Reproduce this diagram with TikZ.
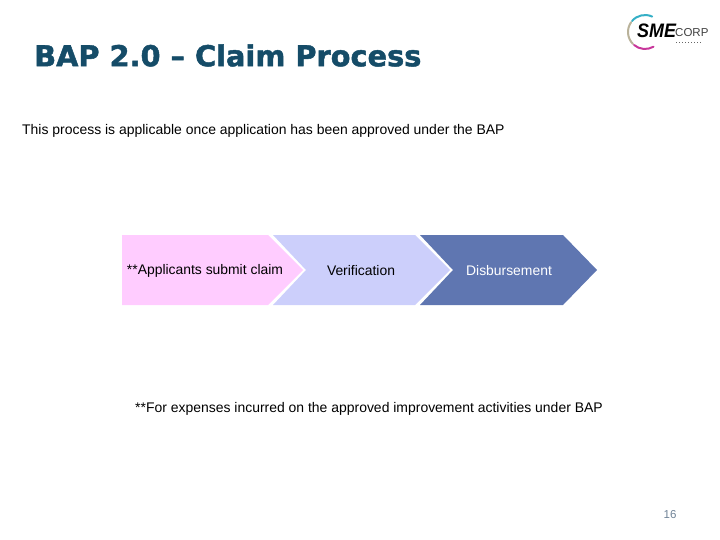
\documentclass[tikz,border=0pt]{standalone}
\usepackage{fontspec}
\setmainfont{Liberation Sans}
\newfontfamily\titlefont[BoldFeatures={FakeBold=1.6}]{DejaVu Sans}
\newfontfamily\logofont[BoldFeatures={FakeBold=0.6}]{Liberation Sans}
\definecolor{titleblue}{HTML}{154C68}
\definecolor{pinkstep}{HTML}{FFCCFF}
\definecolor{lilacstep}{HTML}{CCCFFB}
\definecolor{bluestep}{HTML}{5F76B1}
\definecolor{pagegrey}{HTML}{6F8296}
\definecolor{ringcyan}{HTML}{35AFC6}
\definecolor{ringtan}{HTML}{B9B29A}
\definecolor{ringpink}{HTML}{C8379B}
\tikzset{
  steptext/.style={font=\fontsize{13.9}{15}\selectfont, anchor=center, inner sep=0pt},
  plaintext/.style={font=\fontsize{13.95}{16}\selectfont, anchor=west, inner sep=0pt},
  ringarc/.style={line width=2pt, line cap=round}
}
\begin{document}
\begin{tikzpicture}[x=1pt,y=-1pt]
\useasboundingbox (0,0) rectangle (720,540);
\pgfmathsetmacro{\stepa}{235}
\pgfmathsetmacro{\stepb}{305}
\pgfmathsetmacro{\stepm}{270}
\coordinate (ring) at (645,32);

\node[inner sep=0pt, anchor=west, text=titleblue, font=\titlefont\fontsize{28.8}{32}\selectfont\bfseries] (title) at (34,55.5) {BAP 2.0 – Claim Process};

% logo
\draw[ringarc, ringcyan] (ring) ++(-65:17) arc (-65:-140:17);
\draw[ringarc, ringtan] (ring) ++(-145:17) arc (-145:-225:17);
\draw[ringarc, ringpink] (ring) ++(-230:17) arc (-230:-300:17);
\node[inner sep=0pt, anchor=west, xscale=.92, font=\logofont\fontsize{19.5}{20}\selectfont\bfseries\itshape] (sme) at (637,30.5) {SME};
\node[inner sep=0pt, anchor=west, text=black!75, font=\fontsize{11.5}{12}\selectfont] (corp) at (675,33) {CORP};
\draw[black!60, line width=1pt, dotted] (676,43) -- (702,43);

\node[plaintext] (intro) at (22,130.5) {This process is applicable once application has been approved under the BAP};

% chevrons
\fill[pinkstep] (122,\stepa) -- (268,\stepa) -- (303,\stepm) -- (268,\stepb) -- (122,\stepb) -- cycle;
\fill[lilacstep] (273,\stepa) -- (415,\stepa) -- (450,\stepm) -- (415,\stepb) -- (273,\stepb) -- (306,\stepm) -- cycle;
\fill[bluestep] (420,\stepa) -- (563,\stepa) -- (597,\stepm) -- (563,\stepb) -- (420,\stepb) -- (453,\stepm) -- cycle;

\node[steptext] (submit) at (205,271) {**Applicants submit claim};
\node[steptext] (verify) at (361,271) {Verification};
\node[steptext, text=white] (pay) at (509,271) {Disbursement};

\node[plaintext] (note) at (135,408.5) {**For expenses incurred on the approved improvement activities under BAP};
\node[inner sep=0pt, text=pagegrey, font=\fontsize{11.5}{12}\selectfont] (page) at (670,515) {16};
\end{tikzpicture}
\end{document}
